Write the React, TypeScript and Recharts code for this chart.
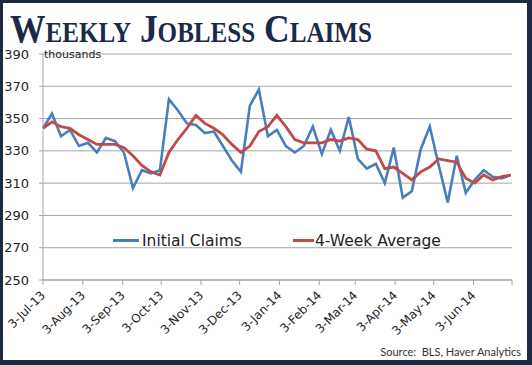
import React from "react";
import { LineChart, Line, XAxis, YAxis, CartesianGrid } from "recharts";

// weekly observations
const weekDates = [
  "2013-07-03", "2013-07-10", "2013-07-17", "2013-07-24", "2013-07-31",
  "2013-08-07", "2013-08-14", "2013-08-21", "2013-08-28",
  "2013-09-04", "2013-09-11", "2013-09-18", "2013-09-25",
  "2013-10-02", "2013-10-09", "2013-10-16", "2013-10-23", "2013-10-30",
  "2013-11-06", "2013-11-13", "2013-11-20", "2013-11-27",
  "2013-12-04", "2013-12-11", "2013-12-18", "2013-12-25",
  "2014-01-01", "2014-01-08", "2014-01-15", "2014-01-22", "2014-01-29",
  "2014-02-05", "2014-02-12", "2014-02-19", "2014-02-26",
  "2014-03-05", "2014-03-12", "2014-03-19", "2014-03-26",
  "2014-04-02", "2014-04-09", "2014-04-16", "2014-04-23", "2014-04-30",
  "2014-05-07", "2014-05-14", "2014-05-21", "2014-05-28",
  "2014-06-04", "2014-06-11", "2014-06-18", "2014-06-25",
  "2014-07-02",
];

const initialClaims = [
  344, 353, 339, 343, 333, 335, 329, 338, 336, 329,
  307, 318, 316, 318, 362, 355, 347, 346, 341, 342,
  333, 324, 317, 358, 368, 339, 343, 333, 329, 333,
  345, 328, 343, 330, 351, 325, 319, 322, 310, 332,
  301, 305, 331, 345, 321, 298, 327, 304, 312, 318,
  314, 313, 315,
];

const fourWeekAverage = [
  344, 348, 345, 344, 340, 337, 334, 334, 334, 332,
  327, 321, 317, 315, 329, 337, 344, 352, 347, 344,
  340, 334, 329, 333, 342, 345, 352, 345, 337, 335,
  335, 335, 337, 336, 338, 337, 331, 330, 319, 320,
  316, 312, 317, 320, 325, 324, 323, 313, 310, 315,
  312, 314, 315,
];

const tickDates = [
  "2013-07-03", "2013-08-03", "2013-09-03", "2013-10-03", "2013-11-03",
  "2013-12-03", "2014-01-03", "2014-02-03", "2014-03-03", "2014-04-03",
  "2014-05-03", "2014-06-03", "2014-07-03",
];
const tickLabels = [
  "3-Jul-13", "3-Aug-13", "3-Sep-13", "3-Oct-13", "3-Nov-13", "3-Dec-13",
  "3-Jan-14", "3-Feb-14", "3-Mar-14", "3-Apr-14", "3-May-14", "3-Jun-14", "",
];
const yTicks = [250, 270, 290, 310, 330, 350, 370, 390];

const DAY = 86400000;
const start = Date.parse(tickDates[0]);
const toDay = (d: string) => Math.round((Date.parse(d) - start) / DAY);

const tickDays = tickDates.map(toDay);
const data = weekDates.map((d, i) => ({
  day: toDay(d),
  claims: initialClaims[i],
  avg: fourWeekAverage[i],
}));

const BLUE = "#4a7ebb";
const RED = "#be4b48";
const NAVY = "#1b2a47";
const AXIS = "#a6a6a6";
const FONT = "'DejaVu Sans', sans-serif";

function DateTick(props: any) {
  const { x, y, payload } = props;
  const idx = tickDays.indexOf(payload.value);
  const label = idx >= 0 ? tickLabels[idx] : "";
  const px = x + 3;
  const py = y + 9;
  return (
    <text
      x={px}
      y={py}
      textAnchor="end"
      transform={`rotate(-45, ${px}, ${py})`}
      fontSize={12}
      fontFamily={FONT}
      fill="#222"
    >
      {label}
    </text>
  );
}

export default function App() {
  return (
    <div style={{ position: "absolute", left: 0, top: 0, width: 532, height: 365, background: "#fff", overflow: "hidden" }}>
      <svg width={532} height={54} style={{ position: "absolute", left: 0, top: 0, overflow: "visible" }}>
        <text
          x={10}
          y={42}
          textLength={362}
          lengthAdjust="spacingAndGlyphs"
          fontFamily="'Liberation Serif', serif"
          fontWeight="bold"
          fontSize={41}
          style={{ fontVariant: "small-caps" }}
          fill={NAVY}
        >
          Weekly Jobless Claims
        </text>
      </svg>
      <div style={{ position: "absolute", left: 0, top: 0 }}>
        <LineChart width={532} height={365} data={data} margin={{ top: 54, right: 20, bottom: 0, left: 0 }}>
          <CartesianGrid vertical={false} stroke={AXIS} strokeWidth={1} />
          <XAxis
            dataKey="day"
            type="number"
            domain={[0, 365]}
            ticks={tickDays}
            interval={0}
            height={85}
            tickSize={5}
            stroke={AXIS}
            tickLine={{ stroke: AXIS }}
            tick={<DateTick />}
          />
          <YAxis
            domain={[250, 390]}
            ticks={yTicks}
            interval={0}
            width={43}
            tickSize={4}
            tickMargin={10}
            stroke={AXIS}
            tickLine={{ stroke: AXIS }}
            tick={{ fontSize: 13, fontFamily: FONT, fill: "#222" }}
          />
          <Line type="linear" dataKey="claims" name="Initial Claims" stroke={BLUE} strokeWidth={2.6} dot={false} isAnimationActive={false} />
          <Line type="linear" dataKey="avg" name="4-Week Average" stroke={RED} strokeWidth={2.8} dot={false} isAnimationActive={false} />
        </LineChart>
      </div>
      <div style={{ position: "absolute", left: 0, top: 231, width: 532, height: 20, fontFamily: FONT, fontSize: 15.5, color: "#222" }}>
        <div style={{ position: "absolute", left: 113, top: 8, width: 26, height: 3, background: BLUE }} />
        <div style={{ position: "absolute", left: 142, top: 0, lineHeight: "20px", whiteSpace: "nowrap" }}>Initial Claims</div>
        <div style={{ position: "absolute", left: 293, top: 8, width: 21, height: 3, background: RED }} />
        <div style={{ position: "absolute", left: 315, top: 0, lineHeight: "20px", whiteSpace: "nowrap" }}>4-Week Average</div>
      </div>
      <div style={{ position: "absolute", left: 44, top: 48, fontFamily: FONT, fontSize: 11, color: "#222", whiteSpace: "nowrap" }}>
        thousands
      </div>
      <div style={{ position: "absolute", right: 11, top: 345, fontFamily: "Lato, sans-serif", fontSize: 11, color: "#333", whiteSpace: "pre" }}>
        {"Source:  BLS, Haver Analytics"}
      </div>
      <div
        style={{
          position: "absolute",
          left: 0,
          top: 0,
          width: 532,
          height: 365,
          boxSizing: "border-box",
          borderStyle: "solid",
          borderColor: "#1c2a42",
          borderWidth: "3px 5px 5px 3px",
          pointerEvents: "none",
        }}
      />
    </div>
  );
}
